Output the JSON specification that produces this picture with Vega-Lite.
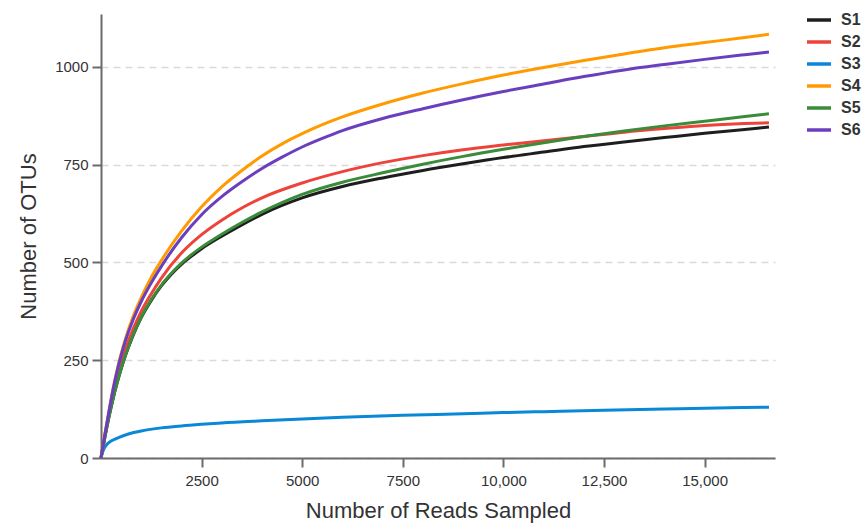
{
  "$schema": "https://vega.github.io/schema/vega-lite/v6.json",
  "width": 674,
  "height": 444,
  "autosize": {"type": "none"},
  "padding": {"left": 101, "top": 14, "right": 87, "bottom": 69},
  "background": "white",
  "config": {
    "view": {"stroke": null},
    "font": "Liberation Sans",
    "axis": {
      "domainColor": "#6b6b6b", "domainWidth": 2, "tickColor": "#6b6b6b", "tickWidth": 2, "tickSize": 9,
      "labelColor": "#333333", "labelFontSize": 15, "labelFont": "Liberation Sans",
      "titleColor": "#333333", "titleFontSize": 22, "titleFontWeight": "normal", "titleFont": "Liberation Sans"
    }
  },
  "data": {"values": [
    {"s":"S1","x":0,"y":0},{"s":"S1","x":100,"y":55},{"s":"S1","x":200,"y":106},{"s":"S1","x":300,"y":152},{"s":"S1","x":400,"y":192},{"s":"S1","x":500,"y":228},{"s":"S1","x":600,"y":260},{"s":"S1","x":800,"y":314},{"s":"S1","x":1000,"y":359},{"s":"S1","x":1250,"y":403},{"s":"S1","x":1500,"y":440},{"s":"S1","x":1750,"y":470},{"s":"S1","x":2000,"y":495},{"s":"S1","x":2250,"y":516},{"s":"S1","x":2500,"y":535},{"s":"S1","x":3000,"y":567},{"s":"S1","x":3500,"y":596},{"s":"S1","x":4000,"y":623},{"s":"S1","x":5000,"y":665},{"s":"S1","x":6000,"y":694},{"s":"S1","x":7000,"y":716},{"s":"S1","x":8000,"y":735},{"s":"S1","x":9000,"y":752},{"s":"S1","x":10000,"y":768},{"s":"S1","x":11000,"y":782},{"s":"S1","x":12000,"y":796},{"s":"S1","x":13000,"y":808},{"s":"S1","x":14000,"y":819},{"s":"S1","x":15000,"y":830},{"s":"S1","x":16000,"y":840},{"s":"S1","x":16600,"y":846},
    {"s":"S2","x":0,"y":0},{"s":"S2","x":100,"y":60},{"s":"S2","x":200,"y":115},{"s":"S2","x":300,"y":165},{"s":"S2","x":400,"y":207},{"s":"S2","x":500,"y":243},{"s":"S2","x":600,"y":275},{"s":"S2","x":800,"y":330},{"s":"S2","x":1000,"y":375},{"s":"S2","x":1250,"y":420},{"s":"S2","x":1500,"y":460},{"s":"S2","x":2000,"y":524},{"s":"S2","x":2500,"y":571},{"s":"S2","x":3000,"y":608},{"s":"S2","x":3500,"y":639},{"s":"S2","x":4000,"y":665},{"s":"S2","x":5000,"y":703},{"s":"S2","x":6000,"y":732},{"s":"S2","x":7000,"y":755},{"s":"S2","x":8000,"y":773},{"s":"S2","x":9000,"y":788},{"s":"S2","x":10000,"y":800},{"s":"S2","x":11000,"y":811},{"s":"S2","x":12000,"y":822},{"s":"S2","x":13000,"y":833},{"s":"S2","x":14000,"y":842},{"s":"S2","x":15000,"y":850},{"s":"S2","x":16000,"y":855},{"s":"S2","x":16600,"y":857},
    {"s":"S3","x":0,"y":0},{"s":"S3","x":30,"y":12},{"s":"S3","x":80,"y":25},{"s":"S3","x":150,"y":35},{"s":"S3","x":215,"y":41},{"s":"S3","x":300,"y":46},{"s":"S3","x":450,"y":53},{"s":"S3","x":700,"y":62},{"s":"S3","x":1000,"y":69},{"s":"S3","x":1500,"y":77},{"s":"S3","x":2000,"y":82},{"s":"S3","x":2500,"y":86},{"s":"S3","x":3000,"y":89.5},{"s":"S3","x":4000,"y":95},{"s":"S3","x":5000,"y":100},{"s":"S3","x":6000,"y":104},{"s":"S3","x":7500,"y":109},{"s":"S3","x":9000,"y":113},{"s":"S3","x":10000,"y":116},{"s":"S3","x":11000,"y":118.5},{"s":"S3","x":12500,"y":122},{"s":"S3","x":14000,"y":125},{"s":"S3","x":15000,"y":127},{"s":"S3","x":16600,"y":130},
    {"s":"S4","x":0,"y":0},{"s":"S4","x":100,"y":62},{"s":"S4","x":200,"y":121},{"s":"S4","x":300,"y":177},{"s":"S4","x":400,"y":225},{"s":"S4","x":500,"y":266},{"s":"S4","x":600,"y":302},{"s":"S4","x":800,"y":362},{"s":"S4","x":1000,"y":410},{"s":"S4","x":1250,"y":462},{"s":"S4","x":1500,"y":505},{"s":"S4","x":2000,"y":580},{"s":"S4","x":2500,"y":642},{"s":"S4","x":3000,"y":693},{"s":"S4","x":3500,"y":735},{"s":"S4","x":4000,"y":772},{"s":"S4","x":4500,"y":803},{"s":"S4","x":5000,"y":829},{"s":"S4","x":5500,"y":852},{"s":"S4","x":6000,"y":872},{"s":"S4","x":7000,"y":905},{"s":"S4","x":8000,"y":933},{"s":"S4","x":9000,"y":957},{"s":"S4","x":10000,"y":979},{"s":"S4","x":11000,"y":998},{"s":"S4","x":12000,"y":1016},{"s":"S4","x":13000,"y":1033},{"s":"S4","x":14000,"y":1049},{"s":"S4","x":15000,"y":1062},{"s":"S4","x":16000,"y":1075},{"s":"S4","x":16600,"y":1083},
    {"s":"S5","x":0,"y":0},{"s":"S5","x":100,"y":55},{"s":"S5","x":200,"y":106},{"s":"S5","x":300,"y":152},{"s":"S5","x":400,"y":192},{"s":"S5","x":500,"y":228},{"s":"S5","x":600,"y":260},{"s":"S5","x":800,"y":315},{"s":"S5","x":1000,"y":360},{"s":"S5","x":1250,"y":405},{"s":"S5","x":1500,"y":442},{"s":"S5","x":1750,"y":472},{"s":"S5","x":2000,"y":498},{"s":"S5","x":2250,"y":520},{"s":"S5","x":2500,"y":539},{"s":"S5","x":3000,"y":572},{"s":"S5","x":3500,"y":602},{"s":"S5","x":4000,"y":629},{"s":"S5","x":5000,"y":674},{"s":"S5","x":6000,"y":705},{"s":"S5","x":7000,"y":729},{"s":"S5","x":8000,"y":751},{"s":"S5","x":9000,"y":771},{"s":"S5","x":10000,"y":789},{"s":"S5","x":11000,"y":806},{"s":"S5","x":12000,"y":822},{"s":"S5","x":13000,"y":836},{"s":"S5","x":14000,"y":849},{"s":"S5","x":15000,"y":861},{"s":"S5","x":16000,"y":873},{"s":"S5","x":16600,"y":880},
    {"s":"S6","x":0,"y":0},{"s":"S6","x":100,"y":62},{"s":"S6","x":200,"y":120},{"s":"S6","x":300,"y":175},{"s":"S6","x":400,"y":222},{"s":"S6","x":500,"y":262},{"s":"S6","x":600,"y":297},{"s":"S6","x":800,"y":354},{"s":"S6","x":1000,"y":400},{"s":"S6","x":1250,"y":448},{"s":"S6","x":1500,"y":490},{"s":"S6","x":2000,"y":563},{"s":"S6","x":2500,"y":622},{"s":"S6","x":3000,"y":668},{"s":"S6","x":3500,"y":706},{"s":"S6","x":4000,"y":740},{"s":"S6","x":4500,"y":769},{"s":"S6","x":5000,"y":795},{"s":"S6","x":5500,"y":817},{"s":"S6","x":6000,"y":837},{"s":"S6","x":7000,"y":868},{"s":"S6","x":8000,"y":893},{"s":"S6","x":9000,"y":916},{"s":"S6","x":10000,"y":937},{"s":"S6","x":11000,"y":956},{"s":"S6","x":12000,"y":975},{"s":"S6","x":13000,"y":992},{"s":"S6","x":14000,"y":1006},{"s":"S6","x":15000,"y":1019},{"s":"S6","x":16000,"y":1031},{"s":"S6","x":16600,"y":1038}
  ]},
  "mark": {"type": "line", "strokeWidth": 3, "interpolate": "monotone", "clip": false},
  "encoding": {
    "x": {
      "field": "x", "type": "quantitative",
      "scale": {"domain": [0, 16750], "nice": false, "zero": false},
      "axis": {
        "title": "Number of Reads Sampled", "grid": false,
        "values": [2500, 5000, 7500, 10000, 12500, 15000],
        "labelExpr": "datum.value >= 10000 ? format(datum.value, ',') : format(datum.value, 'd')",
        "labelPadding": 6, "titlePadding": 12
      }
    },
    "y": {
      "field": "y", "type": "quantitative",
      "scale": {"domain": [0, 1135], "nice": false},
      "axis": {
        "title": "Number of OTUs",
        "values": [0, 250, 500, 750, 1000], "format": "d",
        "grid": true, "gridColor": "#d9d9d9", "gridWidth": 1.5, "gridDash": [7, 5],
        "labelPadding": 4, "titlePadding": 14
      }
    },
    "color": {
      "field": "s", "type": "nominal",
      "scale": {"domain": ["S1","S2","S3","S4","S5","S6"], "range": ["#1e1e1e","#ee433a","#0a88d8","#ff9a00","#3a8c3a","#6a3fbd"]},
      "legend": {
        "title": null, "orient": "none", "legendX": 704, "legendY": -8, "direction": "vertical",
        "symbolType": "stroke", "symbolStrokeWidth": 3.5, "symbolSize": 576,
        "labelFontSize": 16, "labelFontWeight": "bold", "labelColor": "#333333", "labelFont": "Liberation Sans",
        "labelOffset": 8, "rowPadding": -2, "padding": 0
      }
    }
  }
}
